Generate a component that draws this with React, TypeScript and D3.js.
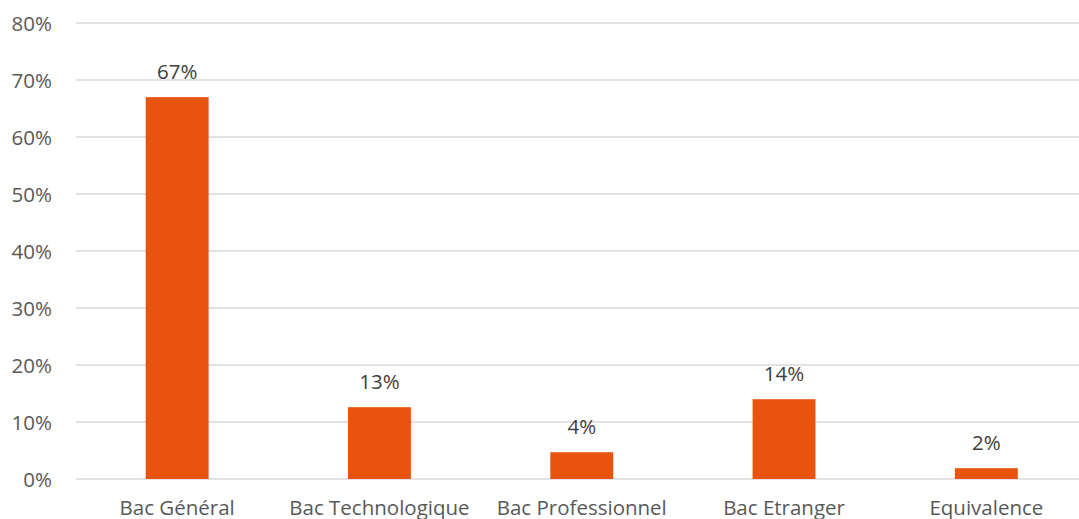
import React, { useEffect } from "react";
import * as d3 from "d3";

const categories = ["Bac Général", "Bac Technologique", "Bac Professionnel", "Bac Etranger", "Equivalence"];
const values = [0.67, 0.126, 0.047, 0.14, 0.019];
const labels = ["67%", "13%", "4%", "14%", "2%"];
const yTicks = [0, 0.1, 0.2, 0.3, 0.4, 0.5, 0.6, 0.7, 0.8];

const W = 1079;
const H = 519;
const left = 76;
const right = 1087.5;
const y0 = 479;
const yTop = 23;
const FONT = "'Open Sans', 'Noto Sans', sans-serif";

export default function App() {
  useEffect(() => {
    document.body.style.margin = "0";
  }, []);
  const x = d3.scaleBand<string>().domain(categories).range([left, right]).paddingInner(0.689).paddingOuter(0.3445);
  const y = d3.scaleLinear().domain([0, 0.8]).range([y0, yTop]);
  const fmt = d3.format(".0%");
  return (
    <svg width={W} height={H} style={{ position: "absolute", left: 0, top: 0, background: "#fff" }}>
      {yTicks.map((t) => (
        <g key={t}>
          <line x1={left} x2={right} y1={y(t)} y2={y(t)} stroke="#d9d9d9" strokeWidth={1.3} />
          <text x={52} y={y(t) + 7.5} textAnchor="end" fontFamily={FONT} fontSize={20.5} fill="#595959">
            {fmt(t)}
          </text>
        </g>
      ))}
      {categories.map((c, i) => (
        <g key={c}>
          <rect x={x(c)} y={y(values[i])} width={x.bandwidth()} height={y0 - y(values[i])} fill="#e8540e" />
          <text x={(x(c) as number) + x.bandwidth() / 2} y={y(values[i]) - 18} textAnchor="middle" fontFamily={FONT} fontSize={20.5} fill="#404040">
            {labels[i]}
          </text>
          <text x={(x(c) as number) + x.bandwidth() / 2} y={515} textAnchor="middle" fontFamily={FONT} fontSize={20.5} fill="#595959">
            {c}
          </text>
        </g>
      ))}
    </svg>
  );
}
